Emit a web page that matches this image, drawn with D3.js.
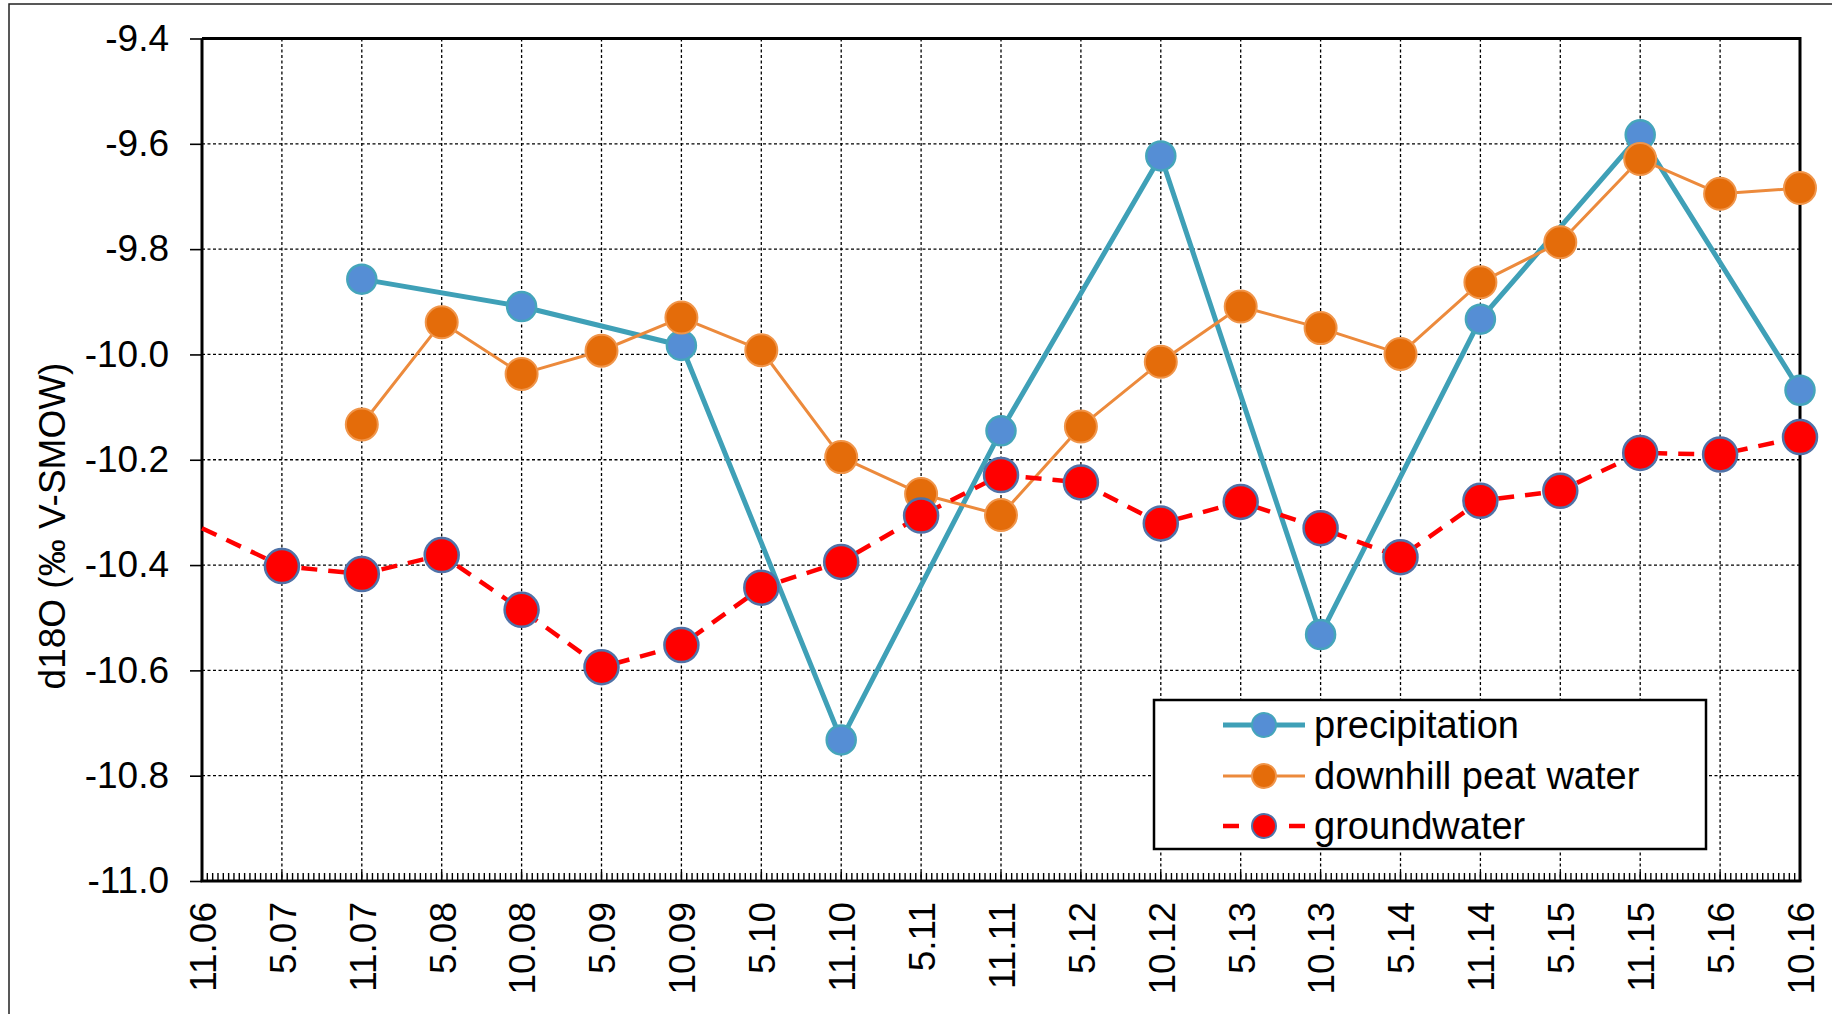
<!DOCTYPE html>
<html>
<head>
<meta charset="utf-8">
<script src="https://cdn.jsdelivr.net/npm/d3@7"></script>
<style>
  html, body { margin: 0; padding: 0; background: #fff; }
  svg { display: block; font-family: "Liberation Sans", Arial, sans-serif; }
</style>
</head>
<body>
<svg id="chart" width="1832" height="1014"></svg>
<script>
// Sampling campaigns (month.year)
const categories = ["11.06","5.07","11.07","5.08","10.08","5.09","10.09","5.10","11.10","5.11",
                    "11.11","5.12","10.12","5.13","10.13","5.14","11.14","5.15","11.15","5.16","10.16"];

// d18O (‰ V-SMOW); null = not sampled
const precipitation = [null,null,-9.857,null,-9.909,null,-9.983,null,-10.732,null,
                       -10.145,null,-9.623,null,-10.532,null,-9.933,null,-9.583,null,-10.068];
const peatWater = [null,null,-10.133,-9.939,-10.037,-9.993,-9.930,-9.992,-10.195,-10.265,
                   -10.305,-10.137,-10.014,-9.909,-9.950,-9.999,-9.863,-9.787,-9.629,-9.695,-9.684];
const groundwater = [-10.330,-10.402,-10.417,-10.381,-10.485,-10.594,-10.552,-10.443,-10.394,-10.306,
                     -10.229,-10.243,-10.321,-10.280,-10.330,-10.385,-10.278,-10.259,-10.187,-10.190,-10.157];
// first groundwater sample is shown as line only
const groundwaterMarkerFrom = 1;

const yTicks = [-11.0,-10.8,-10.6,-10.4,-10.2,-10.0,-9.8,-9.6,-9.4];
const seriesNames = ["precipitation","downhill peat water","groundwater"];

const svg = d3.select("#chart");
const plot = { left: 202, right: 1800, top: 38.5, bottom: 881 };

const x = d3.scalePoint().domain(categories).range([plot.left, plot.right]);
const y = d3.scaleLinear().domain([-11.0, -9.4]).range([plot.bottom, plot.top]);

// outer chart frame
svg.append("rect")
  .attr("x", 9).attr("y", 4).attr("width", 1900).attr("height", 1100)
  .attr("fill", "none").attr("stroke", "#222").attr("stroke-width", 1.5);

// gridlines
const grid = svg.append("g").attr("stroke", "#000").attr("stroke-width", 1.3)
  .attr("stroke-dasharray", "3,2.5");
grid.selectAll("line.h").data(yTicks.slice(1, -1)).join("line")
  .attr("x1", plot.left).attr("x2", plot.right)
  .attr("y1", d => y(d)).attr("y2", d => y(d));
grid.selectAll("line.v").data(categories.slice(1, -1)).join("line")
  .attr("x1", d => x(d)).attr("x2", d => x(d))
  .attr("y1", plot.top).attr("y2", plot.bottom);

// minor ticks along the category axis
const minorPerStep = 15;
const minor = [];
for (let i = 0; i < categories.length - 1; i++) {
  for (let k = 1; k < minorPerStep; k++) minor.push(x(categories[i]) + k * x.step() / minorPerStep);
}
svg.append("g").attr("stroke", "#000").attr("stroke-width", 1.4)
  .selectAll("line").data(minor).join("line")
  .attr("x1", d => d).attr("x2", d => d)
  .attr("y1", plot.bottom).attr("y2", plot.bottom - 8);
svg.append("g").attr("stroke", "#000").attr("stroke-width", 1.6)
  .selectAll("line").data(categories).join("line")
  .attr("x1", d => x(d)).attr("x2", d => x(d))
  .attr("y1", plot.bottom).attr("y2", plot.bottom - 9);

// plot frame (top and right)
svg.append("path")
  .attr("d", `M${plot.left},${plot.top}H${plot.right}V${plot.bottom}`)
  .attr("fill", "none").attr("stroke", "#000").attr("stroke-width", 3);

// y axis
const yAxis = svg.append("g").attr("transform", `translate(${plot.left},0)`)
  .call(d3.axisLeft(y).tickValues(yTicks).tickFormat(d => d.toFixed(1)).tickSize(12).tickPadding(21));
yAxis.select(".domain").attr("stroke-width", 3).attr("d", `M0,${plot.top}V${plot.bottom}`);
yAxis.selectAll(".tick line").attr("stroke-width", 1.6);
yAxis.selectAll(".tick text").attr("font-size", 37).attr("fill", "#000")
  .attr("font-family", "Liberation Sans, Arial, sans-serif");

// x axis
const xAxis = svg.append("g").attr("transform", `translate(0,${plot.bottom})`)
  .call(d3.axisBottom(x).tickSize(0).tickPadding(0));
xAxis.select(".domain").attr("stroke-width", 3).attr("d", `M${plot.left - 1.5},0H${plot.right + 1.5}`);
xAxis.selectAll(".tick text")
  .attr("font-size", 37).attr("fill", "#000")
  .attr("font-family", "Liberation Sans, Arial, sans-serif")
  .attr("text-anchor", "end")
  .attr("transform", "translate(0,21) rotate(-90)")
  .attr("x", 0).attr("y", 0).attr("dy", "0.36em");

// y axis title
svg.append("text")
  .attr("transform", "translate(52,526) rotate(-90)")
  .attr("text-anchor", "middle").attr("dy", "0.35em")
  .attr("font-size", 37).attr("fill", "#000")
  .text("d18O (‰ V-SMOW)");

// series styles
const styles = [
  { values: precipitation, line: "#3fa0b7", width: 5, dash: null, fill: "#558ed5", stroke: "#45a5bb", sw: 2.5, r: 14.5, from: 0 },
  { values: peatWater, line: "#ec8a3c", width: 3, dash: null, fill: "#e46c0a", stroke: "#f0954a", sw: 2, r: 16, from: 0 },
  { values: groundwater, line: "#ff0000", width: 4.5, dash: "16,11", fill: "#ff0000", stroke: "#4f72a8", sw: 2.5, r: 17, from: groundwaterMarkerFrom }
];

const pts = s => categories.map((c, i) => ({ c, v: s.values[i], i })).filter(d => d.v !== null);
const lineGen = d3.line().x(d => x(d.c)).y(d => y(d.v));

const lines = svg.append("g");
styles.forEach(s => {
  lines.append("path").datum(pts(s))
    .attr("d", lineGen).attr("fill", "none")
    .attr("stroke", s.line).attr("stroke-width", s.width)
    .attr("stroke-linejoin", "round")
    .attr("stroke-dasharray", s.dash);
});
const markers = svg.append("g");
styles.forEach(s => {
  markers.append("g").selectAll("circle").data(pts(s).filter(d => d.i >= s.from)).join("circle")
    .attr("cx", d => x(d.c)).attr("cy", d => y(d.v)).attr("r", s.r)
    .attr("fill", s.fill).attr("stroke", s.stroke).attr("stroke-width", s.sw);
});

// legend
const legend = svg.append("g");
legend.append("rect")
  .attr("x", 1154).attr("y", 700).attr("width", 552).attr("height", 149)
  .attr("fill", "#fff").attr("stroke", "#000").attr("stroke-width", 2.5);
const rowY = [725, 776, 826];
styles.forEach((s, i) => {
  const g = legend.append("g").attr("transform", `translate(0,${rowY[i]})`);
  g.append("line").attr("x1", 1223).attr("x2", 1305).attr("y1", 0).attr("y2", 0)
    .attr("stroke", s.line).attr("stroke-width", s.width)
    .attr("stroke-dasharray", s.dash ? "16,50" : null);
  g.append("circle").attr("cx", 1264).attr("cy", 0).attr("r", 12)
    .attr("fill", s.fill).attr("stroke", s.stroke).attr("stroke-width", 2);
  g.append("text").attr("x", 1314).attr("y", 0).attr("dy", "0.35em")
    .attr("font-size", 38).attr("fill", "#000").text(seriesNames[i]);
});
</script>
</body>
</html>
